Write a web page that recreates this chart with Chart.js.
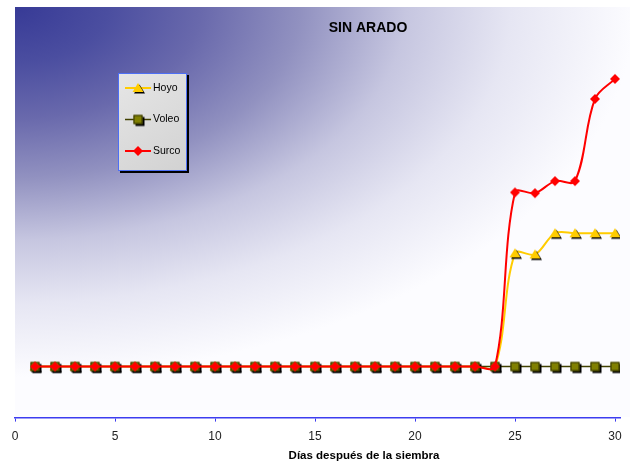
<!DOCTYPE html>
<html>
<head>
<meta charset="utf-8">
<script src="https://cdn.jsdelivr.net/npm/chart.js@4/dist/chart.umd.min.js"></script>
<style>
  html, body { margin: 0; padding: 0; background: #ffffff; }
  #wrap { width: 637px; height: 470px; }
</style>
</head>
<body>
<div id="wrap"><canvas id="c" width="637" height="470"></canvas></div>
<script>
// Días después de la siembra
const days = [1, 2, 3, 4, 5, 6, 7, 8, 9, 10, 11, 12, 13, 14, 15,
              16, 17, 18, 19, 20, 21, 22, 23, 24, 25, 26, 27, 28, 29, 30];

const hoyo  = [0, 0, 0, 0, 0, 0, 0, 0, 0, 0, 0, 0, 0, 0, 0,
               0, 0, 0, 0, 0, 0, 0, 0, 0, 31.0, 30.7, 36.5, 36.5, 36.5, 36.5];
const voleo = [0, 0, 0, 0, 0, 0, 0, 0, 0, 0, 0, 0, 0, 0, 0,
               0, 0, 0, 0, 0, 0, 0, 0, 0, 0, 0, 0, 0, 0, 0];
const surco = [0, 0, 0, 0, 0, 0, 0, 0, 0, 0, 0, 0, 0, 0, 0,
               0, 0, 0, 0, 0, 0, 0, 0, 0, 47.7, 47.5, 50.8, 50.8, 73.3, 78.8];

const xTicks = [0, 5, 10, 15, 20, 25, 30];

const seriesNames = ['Hoyo', 'Voleo', 'Surco'];
const chartTitle = 'SIN ARADO';
const xTitle = 'Días después de la siembra';

const FONT = '"Liberation Sans", Arial, Helvetica, sans-serif';
const AXIS_BLUE = '#3c3cf0';

// Marker sprites (drawn once, reused for the series and the legend)
function makeMarker(kind) {
  const c = document.createElement('canvas');
  c.width = 16; c.height = 16;
  const g = c.getContext('2d');
  const cx = 8, cy = 8;
  if (kind === 'triangle') {
    const tri = (dx, dy) => {
      g.beginPath();
      g.moveTo(cx + dx, cy - 5 + dy);
      g.lineTo(cx + 5.5 + dx, cy + 4 + dy);
      g.lineTo(cx - 5.5 + dx, cy + 4 + dy);
      g.closePath();
    };
    tri(1.5, 1.5); g.fillStyle = '#000000'; g.fill();
    tri(0, 0); g.fillStyle = '#ffcc00'; g.fill();
  } else if (kind === 'square') {
    g.fillStyle = '#000000';
    g.fillRect(cx - 4.5 + 2, cy - 4.5 + 2, 9, 9);
    g.fillStyle = '#808000';
    g.fillRect(cx - 4.5, cy - 4.5, 9, 9);
    g.strokeStyle = '#333300';
    g.lineWidth = 1;
    g.strokeRect(cx - 4, cy - 4, 8, 8);
  } else {
    g.beginPath();
    g.moveTo(cx, cy - 5);
    g.lineTo(cx + 5, cy);
    g.lineTo(cx, cy + 5);
    g.lineTo(cx - 5, cy);
    g.closePath();
    g.fillStyle = '#ff0000';
    g.fill();
  }
  return c;
}

const markerHoyo = makeMarker('triangle');
const markerVoleo = makeMarker('square');
const markerSurco = makeMarker('diamond');

const toPoints = (vals) => vals.map((v, i) => ({ x: days[i], y: v }));

// Plot backdrop: dark blue in the top-left corner fading to white
const backdrop = {
  id: 'backdrop',
  beforeDraw(chart) {
    const ctx = chart.ctx;
    ctx.save();
    ctx.fillStyle = '#ffffff';
    ctx.fillRect(0, 0, chart.width, chart.height);
    const x0 = 15, y0 = 7, x1 = 630, y1 = 417;
    ctx.beginPath();
    ctx.rect(x0, y0, x1 - x0, y1 - y0);
    ctx.clip();
    ctx.translate(x0, y0);
    ctx.scale(1, 370 / 620);
    const grad = ctx.createRadialGradient(0, 0, 0, 0, 0, 620);
    grad.addColorStop(0.00, 'rgb(55,58,150)');
    grad.addColorStop(0.15, 'rgb(75,78,160)');
    grad.addColorStop(0.30, 'rgb(105,105,172)');
    grad.addColorStop(0.46, 'rgb(145,145,192)');
    grad.addColorStop(0.63, 'rgb(198,198,224)');
    grad.addColorStop(0.80, 'rgb(230,230,243)');
    grad.addColorStop(1.00, 'rgb(252,252,255)');
    ctx.fillStyle = grad;
    ctx.fillRect(0, 0, 640, 700);
    ctx.restore();
  }
};

// Chart title and x-axis title
const titles = {
  id: 'titles',
  afterDraw(chart) {
    const ctx = chart.ctx;
    ctx.save();
    ctx.fillStyle = '#000000';
    ctx.textAlign = 'center';
    ctx.textBaseline = 'middle';
    ctx.font = 'bold 14px ' + FONT;
    ctx.fillText(chartTitle, 368, 28);
    ctx.font = 'bold 11.5px ' + FONT;
    ctx.fillText(xTitle, 364, 456);
    ctx.restore();
  }
};

// Boxed legend with line-and-marker samples
const boxLegend = {
  id: 'boxLegend',
  afterDraw(chart) {
    const ctx = chart.ctx;
    const bx = 118, by = 73, bw = 68, bh = 97;
    ctx.save();
    ctx.fillStyle = '#000000';
    ctx.fillRect(bx + 2, by + 2, bw + 1, bh + 1);
    const lg = ctx.createLinearGradient(bx, by, bx + bw, by + bh);
    lg.addColorStop(0, '#e6e6e6');
    lg.addColorStop(1, '#d2d2d2');
    ctx.fillStyle = lg;
    ctx.fillRect(bx, by, bw, bh);
    ctx.strokeStyle = '#4d6ff5';
    ctx.lineWidth = 1;
    ctx.strokeRect(bx + 0.5, by + 0.5, bw, bh);
    ctx.font = '10.5px ' + FONT;
    ctx.textBaseline = 'middle';
    ctx.textAlign = 'left';
    chart.data.datasets.forEach((ds, i) => {
      const y = 88 + i * 31.5;
      ctx.strokeStyle = ds.borderColor;
      ctx.lineWidth = ds.borderWidth;
      ctx.beginPath();
      ctx.moveTo(125, y);
      ctx.lineTo(151, y);
      ctx.stroke();
      const m = ds.pointStyle;
      ctx.drawImage(m, 138 - m.width / 2, y - m.height / 2);
      ctx.fillStyle = '#000000';
      ctx.fillText(ds.label, 153, y);
    });
    ctx.restore();
  }
};

new Chart(document.getElementById('c'), {
  type: 'line',
  data: {
    datasets: [
      {
        label: seriesNames[0],
        data: toPoints(hoyo),
        borderColor: '#ffcc00',
        borderWidth: 2,
        pointStyle: markerHoyo,
        tension: 0.35,
        order: 3
      },
      {
        label: seriesNames[1],
        data: toPoints(voleo),
        borderColor: '#404000',
        borderWidth: 1.5,
        pointStyle: markerVoleo,
        tension: 0.35,
        order: 2
      },
      {
        label: seriesNames[2],
        data: toPoints(surco),
        borderColor: '#ff0000',
        borderWidth: 2,
        pointStyle: markerSurco,
        tension: 0.35,
        order: 1
      }
    ]
  },
  options: {
    responsive: false,
    animation: false,
    devicePixelRatio: 1,
    events: [],
    layout: { padding: { left: 15, right: 17, top: 7, bottom: 18 } },
    plugins: {
      legend: { display: false },
      title: { display: false },
      tooltip: { enabled: false }
    },
    scales: {
      x: {
        type: 'linear',
        min: 0,
        max: 30.25,
        afterBuildTicks(scale) {
          scale.ticks = xTicks.map(v => ({ value: v }));
        },
        ticks: {
          color: '#222222',
          font: { family: FONT, size: 12 },
          padding: 8,
          maxRotation: 0,
          autoSkip: false
        },
        grid: {
          drawOnChartArea: false,
          drawTicks: true,
          tickLength: 4,
          color: AXIS_BLUE,
          lineWidth: 1
        },
        border: { display: true, color: AXIS_BLUE, width: 1.5 }
      },
      y: {
        display: false,
        min: -14,
        max: 98.5
      }
    }
  },
  plugins: [backdrop, titles, boxLegend]
});
</script>
</body>
</html>
